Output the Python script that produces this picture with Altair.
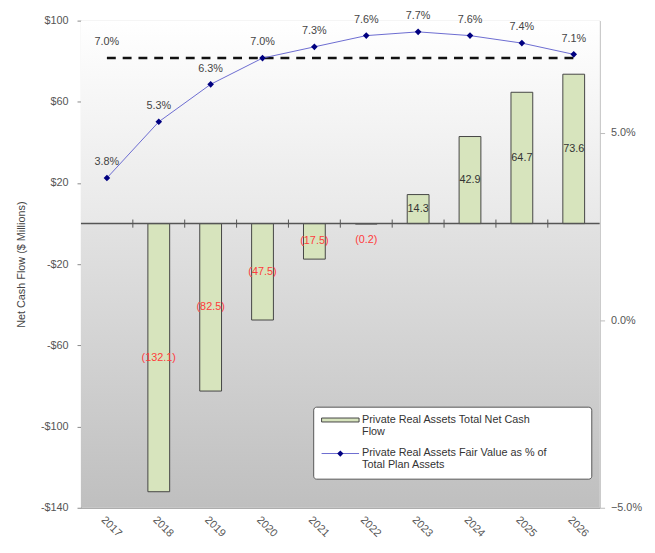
import altair as alt
import pandas as pd

years = ["2017", "2018", "2019", "2020", "2021", "2022", "2023", "2024", "2025", "2026"]
net_cash_flow = [None, -132.1, -82.5, -47.5, -17.5, -0.2, 14.3, 42.9, 64.7, 73.6]
fair_value_pct = [3.8, 5.3, 6.3, 7.0, 7.3, 7.6, 7.7, 7.6, 7.4, 7.1]
target_pct = 7.0
left_ticks = [-140, -100, -60, -20, 20, 60, 100]
right_ticks = [-5, 0, 5]
bar_series = "Private Real Assets Total Net Cash\nFlow"
line_series = "Private Real Assets Fair Value as % of\nTotal Plan Assets"

W, H = 526, 494
FONT = "Liberation Sans"

df = pd.DataFrame({"year": years, "flow": net_cash_flow, "pct": fair_value_pct})
df["target"] = target_pct
df["pct_label"] = [f"{v:.1f}%" for v in fair_value_pct]

bars_df = df.dropna(subset=["flow"]).copy()
bars_df["label"] = [f"({abs(v):.1f})" if v < 0 else f"{v:.1f}" for v in bars_df["flow"]]
bars_df["label_y"] = [min(v / 2, -8) if v < 0 else v / 2 for v in bars_df["flow"]]
bars_df["neg"] = bars_df["flow"] < 0

x_scale = alt.Scale(domain=years, paddingInner=0, paddingOuter=0)
x_axis = alt.Axis(title=None, labelAngle=45, labelAlign="left", labelBaseline="top",
                  ticks=False, domainColor="#999999", labelColor="#555555",
                  labelFontSize=11, labelPadding=6, labelFont=FONT)

yL_scale = alt.Scale(domain=[-140, 100], nice=False, zero=False)
yL_axis = alt.Axis(title="Net Cash Flow ($ Millions)", values=left_ticks,
                   labelExpr="datum.value < 0 ? '-$' + abs(datum.value) : '$' + datum.value",
                   grid=False, orient="left", domainColor="#888888", tickColor="#888888",
                   tickSize=4, labelPadding=9, labelColor="#555555", labelFontSize=11,
                   titleFontSize=11, titleFontWeight="normal", titleColor="#444444",
                   titlePadding=14, labelFont=FONT, titleFont=FONT)

yR_scale = alt.Scale(domain=[-5, 8], nice=False, zero=False)
yR_axis = alt.Axis(title=None, values=right_ticks, orient="right",
                   labelExpr="format(datum.value, '.1f') + '%'",
                   grid=False, domainColor="#bbbbbb", tickColor="#bbbbbb",
                   tickSize=5, labelPadding=6, labelColor="#555555", labelFontSize=11,
                   labelFont=FONT)

up_grad = alt.LinearGradient(gradient="linear", x1=0, x2=0, y1=0, y2=1,
                             stops=[alt.GradientStop(offset=0, color="#ffffff"),
                                    alt.GradientStop(offset=1, color="#e8e8e8")])
down_grad = alt.LinearGradient(gradient="linear", x1=0, x2=0, y1=0, y2=1,
                               stops=[alt.GradientStop(offset=0, color="#e2e2e2"),
                                      alt.GradientStop(offset=1, color="#bfbfbf")])

bg_up = alt.Chart(pd.DataFrame({"lo": [0], "hi": [100]})).mark_rect(fill=up_grad).encode(
    y=alt.Y("lo:Q", scale=yL_scale, axis=yL_axis), y2="hi:Q")
bg_down = alt.Chart(pd.DataFrame({"lo": [-140], "hi": [0]})).mark_rect(fill=down_grad).encode(
    y=alt.Y("lo:Q", scale=yL_scale, axis=yL_axis), y2="hi:Q")

bars = alt.Chart(bars_df).mark_bar(width=alt.RelativeBandSize(0.42), fill="#d7e4bd",
                                   stroke="#444444", strokeWidth=1).encode(
    x=alt.X("year:N", scale=x_scale, axis=x_axis),
    y=alt.Y("flow:Q", scale=yL_scale, axis=yL_axis))

zero_rule = alt.Chart(pd.DataFrame({"z": [0]})).mark_rule(color="#555555", strokeWidth=1.5).encode(
    y=alt.Y("z:Q", scale=yL_scale, axis=yL_axis))

tick_df = pd.DataFrame({"year": years[1:], "lo": -2.0, "hi": 2.0})
zero_ticks = alt.Chart(tick_df).mark_rule(color="#555555", strokeWidth=1).encode(
    x=alt.X("year:N", scale=x_scale, axis=x_axis, bandPosition=0),
    y=alt.Y("lo:Q", scale=yL_scale, axis=yL_axis), y2="hi:Q")

bar_labels = alt.Chart(bars_df).mark_text(fontSize=11, font=FONT, baseline="middle").encode(
    x=alt.X("year:N", scale=x_scale, axis=x_axis),
    y=alt.Y("label_y:Q", scale=yL_scale, axis=yL_axis),
    text="label:N",
    color=alt.condition("datum.neg", alt.value("#ff3b3b"), alt.value("#333333")))

left = alt.layer(bg_up, bg_down, bars, zero_rule, zero_ticks, bar_labels)

target_line = alt.Chart(df).mark_line(color="#111111", strokeWidth=2.5, strokeDash=[9, 7]).encode(
    x=alt.X("year:N", scale=x_scale, axis=x_axis),
    y=alt.Y("target:Q", scale=yR_scale, axis=yR_axis))
target_label = alt.Chart(df.iloc[[0]]).mark_text(fontSize=11, font=FONT, color="#444444", dy=-16).encode(
    x=alt.X("year:N", scale=x_scale, axis=x_axis),
    y=alt.Y("target:Q", scale=yR_scale, axis=yR_axis),
    text=alt.value(f"{target_pct:.1f}%"))
line = alt.Chart(df).mark_line(color="#6b6bd0", strokeWidth=1).encode(
    x=alt.X("year:N", scale=x_scale, axis=x_axis),
    y=alt.Y("pct:Q", scale=yR_scale, axis=yR_axis))
points = alt.Chart(df).mark_point(shape="diamond", filled=True, color="#000080", size=45, opacity=1).encode(
    x=alt.X("year:N", scale=x_scale, axis=x_axis),
    y=alt.Y("pct:Q", scale=yR_scale, axis=yR_axis))
point_labels = alt.Chart(df).mark_text(fontSize=11, font=FONT, color="#444444", dy=-16).encode(
    x=alt.X("year:N", scale=x_scale, axis=x_axis),
    y=alt.Y("pct:Q", scale=yR_scale, axis=yR_axis),
    text="pct_label:N")

one = pd.DataFrame({"a": [0]})
leg_box = alt.Chart(one).mark_rect(fill="white", stroke="#555555", strokeWidth=1, cornerRadius=3).encode(
    x=alt.value(236), x2=alt.value(518), y=alt.value(392), y2=alt.value(465))
leg_sym1 = alt.Chart(one).mark_rect(fill="#d7e4bd", stroke="#444444", strokeWidth=1).encode(
    x=alt.value(244), x2=alt.value(282), y=alt.value(403), y2=alt.value(407))
leg_txt1 = alt.Chart(one).mark_text(align="left", baseline="top", fontSize=11, font=FONT,
                                    color="#333333", lineBreak="\n", lineHeight=12).encode(
    x=alt.value(285), y=alt.value(399), text=alt.value(bar_series))
leg_sym2 = alt.Chart(one).mark_rule(color="#6b6bd0", strokeWidth=1).encode(
    x=alt.value(244), x2=alt.value(282), y=alt.value(439))
leg_pt2 = alt.Chart(one).mark_point(shape="diamond", filled=True, color="#000080", size=40, opacity=1).encode(
    x=alt.value(263), y=alt.value(439))
leg_txt2 = alt.Chart(one).mark_text(align="left", baseline="top", fontSize=11, font=FONT,
                                    color="#333333", lineBreak="\n", lineHeight=12).encode(
    x=alt.value(285), y=alt.value(433), text=alt.value(line_series))

right = alt.layer(target_line, target_label, line, points, point_labels,
                  leg_box, leg_sym1, leg_txt1, leg_sym2, leg_pt2, leg_txt2)

chart = alt.layer(left, right).resolve_scale(y="independent").properties(
    width=W, height=H, padding={"left": 7, "top": -2, "right": 5, "bottom": 5}
).configure_view(stroke=None).configure(font=FONT, background="white")

chart.save("out.html", embed_options={"renderer": "svg", "actions": False})
